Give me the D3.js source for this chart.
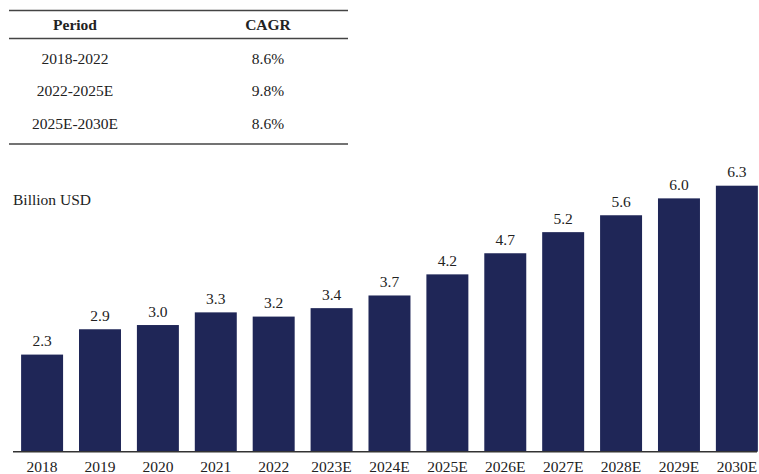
<!DOCTYPE html>
<html><head><meta charset="utf-8">
<script src="https://cdn.jsdelivr.net/npm/d3@7"></script>
<style>body{margin:0;background:#fff}svg{display:block}</style>
</head><body>
<svg id="c" width="759" height="474"></svg>
<script>
const years = ["2018","2019","2020","2021","2022","2023E","2024E","2025E","2026E","2027E","2028E","2029E","2030E"];
const values = [2.3,2.9,3.0,3.3,3.2,3.4,3.7,4.2,4.7,5.2,5.6,6.0,6.3];
const periods = ["2018-2022","2022-2025E","2025E-2030E"];
const cagr = ["8.6%","9.8%","8.6%"];
const tableHeader = ["Period","CAGR"];
const unitLabel = "Billion USD";

const svg = d3.select("#c");
const font = "'Liberation Serif','Times New Roman',serif";
const textColor = "#222";
const barColor = "#1f2657";
const fs = 15.5;

// table
const tbl = svg.append("g");
const colX = d3.scaleOrdinal().domain(tableHeader).range([75, 268]);
const rowY = d3.scaleOrdinal().domain(periods).range([63.5, 96, 128.5]);
tbl.append("line").attr("x1",9).attr("x2",348).attr("y1",10.5).attr("y2",10.5).attr("stroke","#444").attr("stroke-width",1.6);
tbl.append("line").attr("x1",9).attr("x2",348).attr("y1",38.5).attr("y2",38.5).attr("stroke","#444").attr("stroke-width",1.6);
tbl.append("line").attr("x1",9).attr("x2",348).attr("y1",144).attr("y2",144).attr("stroke","#444").attr("stroke-width",1.6);
tbl.selectAll("text.h").data(tableHeader).join("text").attr("class","h")
  .attr("x",d=>colX(d)).attr("y",30).attr("text-anchor","middle")
  .attr("font-family",font).attr("font-weight","bold").attr("font-size",fs).attr("fill",textColor).text(d=>d);
tbl.selectAll("text.p").data(periods).join("text").attr("class","p")
  .attr("x",colX("Period")).attr("y",d=>rowY(d)).attr("text-anchor","middle")
  .attr("font-family",font).attr("font-size",fs).attr("fill",textColor).text(d=>d);
tbl.selectAll("text.c").data(periods).join("text").attr("class","c")
  .attr("x",colX("CAGR")).attr("y",d=>rowY(d)).attr("text-anchor","middle")
  .attr("font-family",font).attr("font-size",fs).attr("fill",textColor).text((d,i)=>cagr[i]);

// chart
const baseY = 451.7;
const y = d3.scaleLinear().domain([0, 6.3]).range([baseY, 185.7]);
const x = d3.scaleBand().domain(years).range([13, 13 + 57.92*13.0]).paddingInner(0.275).paddingOuter(0.14);

svg.append("text").attr("x",13).attr("y",205).attr("font-family",font).attr("font-size",fs).attr("fill",textColor).text(unitLabel);

svg.selectAll("rect.bar").data(values).join("rect").attr("class","bar")
  .attr("x",(d,i)=>x(years[i])).attr("width",x.bandwidth())
  .attr("y",d=>y(d)).attr("height",d=>baseY - y(d)).attr("fill",barColor);

svg.selectAll("text.v").data(values).join("text").attr("class","v")
  .attr("x",(d,i)=>x(years[i]) + x.bandwidth()/2).attr("y",d=>y(d)-8.5)
  .attr("text-anchor","middle").attr("font-family",font).attr("font-size",fs).attr("fill",textColor)
  .text(d=>d3.format(".1f")(d));

const axis = svg.append("g").attr("transform",`translate(0,${baseY})`)
  .call(d3.axisBottom(x).tickSize(0).tickPadding(0));
axis.select(".domain").remove();
axis.selectAll("text").attr("font-family",font).attr("font-size",fs).attr("fill",textColor).attr("dy",null).attr("y",20);
svg.append("line").attr("x1",13).attr("x2",757).attr("y1",baseY).attr("y2",baseY).attr("stroke","#333").attr("stroke-width",1.5);
</script>
</body></html>
